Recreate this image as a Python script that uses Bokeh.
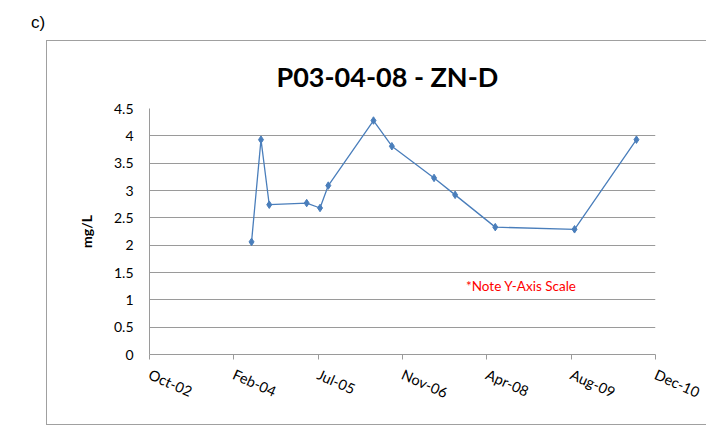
import pandas as pd
from bokeh.plotting import figure
from bokeh.models import (ColumnDataSource, FixedTicker, Range1d, Label,
                          Title, Div)
from bokeh.layouts import column
from bokeh.embed import file_html
from bokeh.resources import INLINE

# ---- data ----
sample_dates = ["2004-06-07", "2004-08-02", "2004-09-20", "2005-04-30",
                "2005-07-18", "2005-09-05", "2006-05-31", "2006-09-17",
                "2007-05-25", "2007-09-27", "2008-05-22", "2009-09-04",
                "2010-09-06"]
zn_values = [2.06, 3.93, 2.74, 2.77, 2.68, 3.09, 4.28, 3.81,
             3.23, 2.92, 2.33, 2.29, 3.93]

x_tick_dates = ["2002-10-11", "2004-02-23", "2005-07-07", "2006-11-19",
                "2008-04-02", "2009-08-15", "2010-12-28"]
x_tick_labels = ["Oct-02", "Feb-04", "Jul-05", "Nov-06", "Apr-08",
                 "Aug-09", "Dec-10"]
y_ticks = [0, 0.5, 1, 1.5, 2, 2.5, 3, 3.5, 4, 4.5]
y_tick_labels = ["0", "0.5", "1", "1.5", "2", "2.5", "3", "3.5", "4", "4.5"]

title_text = "P03-04-08 - ZN-D"
y_label = "mg/L"
note_text = "*Note Y-Axis Scale"
panel_label = "c)"


def ms(d):
    return float(pd.Timestamp(d).value // 10**6)


xs = [ms(d) for d in sample_dates]
tick_ms = [ms(d) for d in x_tick_dates]

src = ColumnDataSource(data=dict(x=xs, y=zn_values))

FONT = "Lato"
GRID = "#9a9a9a"
BLUE = "#4a7ebb"
BORDER = "1.5px solid #a0a0a0"

p = figure(width=660, height=385, output_backend="svg", toolbar_location=None,
           x_range=Range1d(tick_ms[0], tick_ms[-1]), y_range=Range1d(0, 4.5),
           min_border_left=102, min_border_right=52, min_border_top=67,
           min_border_bottom=72,
           margin=(0, 0, 0, 46),
           styles={"border-left": BORDER, "border-top": BORDER,
                   "border-bottom": BORDER})
p.outline_line_color = None
p.background_fill_color = "white"
p.border_fill_color = "white"

t = Title(text=title_text, align="left", offset=127, text_font=FONT,
          text_font_size="27px", text_font_style="bold", text_color="black",
          standoff=32)
p.add_layout(t, "above")

p.line("x", "y", source=src, line_color=BLUE, line_width=1.3)
p.scatter("x", "y", source=src, marker="diamond", size=7.5,
          fill_color=BLUE, line_color=BLUE)

# axes
xa = p.xaxis[0]
xa.ticker = FixedTicker(ticks=tick_ms)
xa.major_label_overrides = {t_: l for t_, l in zip(tick_ms, x_tick_labels)}
xa.major_label_orientation = -0.42
xa.major_label_text_font = FONT
xa.major_label_text_font_size = "14.5px"
xa.major_label_text_color = "black"
xa.major_label_standoff = 14
xa.axis_line_color = GRID
xa.major_tick_line_color = GRID
xa.major_tick_out = 5
xa.major_tick_in = 0
xa.minor_tick_line_color = None

ya = p.yaxis[0]
ya.ticker = FixedTicker(ticks=y_ticks)
ya.major_label_overrides = {t_: l for t_, l in zip(y_ticks, y_tick_labels)}
ya.major_label_text_font = FONT
ya.major_label_text_font_size = "14px"
ya.major_label_text_color = "black"
ya.major_label_standoff = 10
ya.axis_line_color = GRID
ya.major_tick_line_color = None
ya.minor_tick_line_color = None
ya.axis_label = y_label
ya.axis_label_text_font = FONT
ya.axis_label_text_font_size = "14px"
ya.axis_label_text_font_style = "bold"
ya.axis_label_text_color = "black"
ya.axis_label_standoff = 16

p.xgrid.grid_line_color = None
p.ygrid.grid_line_color = GRID
p.ygrid.grid_line_width = 1

# note
p.add_layout(Label(x=ms("2008-10-23"), y=1.25, text=note_text,
                   text_font=FONT, text_font_size="13.5px",
                   text_color="#ff0000",
                   text_align="center", text_baseline="middle"))

div = Div(text=panel_label, width=40, height=26, margin=(14, 0, 0, 31),
          styles={"font-family": "Liberation Sans", "font-size": "17px",
                  "color": "black", "line-height": "17px"})

layout = column(div, p, spacing=0)

open("out.html", "w").write(file_html(layout, INLINE))
